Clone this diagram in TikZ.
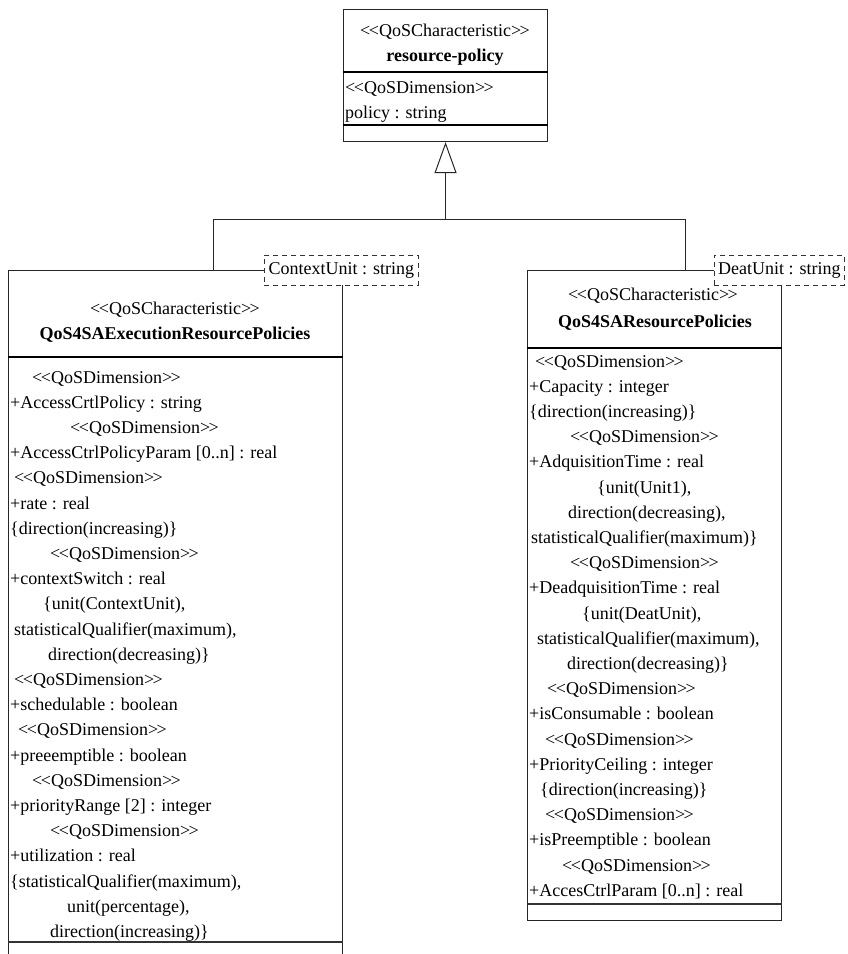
\documentclass[tikz,border=0pt]{standalone}
\usepackage{fontspec}
\setmainfont{Liberation Serif}
\usetikzlibrary{arrows.meta}
\newcommand\LL{<\kern-1.5pt<}
\newcommand\GG{>\kern-1.5pt>}
\begin{document}
\begin{tikzpicture}[x=1pt,y=-1pt,
  box/.style={draw=black!85, line width=1.1pt, fill=white, inner sep=0pt, anchor=north west},
  sep/.style={draw=black, line width=1.8pt},
  attr/.style={anchor=base west, inner sep=0pt, font=\fontsize{18}{20}\selectfont},
  ctr/.style={anchor=base, inner sep=0pt, font=\fontsize{18}{20}\selectfont},
  note/.style={draw=black!80, dash pattern=on 5pt off 4pt, line width=0.8pt, fill=white,
    anchor=north west, inner sep=0pt, minimum height=30pt, font=\fontsize{18}{20}\selectfont},
  gen/.style={draw=black!85, line width=1pt}]
\useasboundingbox (0,0) rectangle (847,954);

% ---------- top class ----------
\node[box, minimum width=204pt, minimum height=132pt] (rp) at (343,9) {};
\draw[sep] (rp.west |- 0,72) -- (rp.east |- 0,72);
\draw[sep] (rp.west |- 0,125) -- (rp.east |- 0,125);
\node[ctr] (rpst) at (445,36) {\LL QoSCharacteristic\GG};
\node[ctr, font=\fontsize{18}{20}\selectfont\bfseries] (rpname) at (445,61) {resource-policy};
\node[attr] (rpa1) at (345,93) {\LL QoSDimension\GG};
\node[attr] (rpa2) at (345,118) {policy : string};

% ---------- left class ----------
\node[box, minimum width=334pt, minimum height=700pt] (lb) at (8,270) {};
\draw[sep] (lb.west |- 0,357) -- (lb.east |- 0,357);
\draw[sep, line width=1.4pt, draw=black!80] (lb.west |- 0,942) -- (lb.east |- 0,942);
\node[ctr] (lbst) at (175,314) {\LL QoSCharacteristic\GG};
\node[ctr, font=\fontsize{18}{20}\selectfont\bfseries] (lbname) at (175,339) {QoS4SAExecutionResourcePolicies};
\foreach \xx/\tt [count=\i] in {
  32/{\LL QoSDimension\GG},
  10/{+AccessCrtlPolicy : string},
  70/{\LL QoSDimension\GG},
  10/{+AccessCtrlPolicyParam [0..n] : real},
  14/{\LL QoSDimension\GG},
  10/{+rate : real},
  10/{\{direction(increasing)\}},
  50/{\LL QoSDimension\GG},
  10/{+contextSwitch : real},
  43/{\{unit(ContextUnit),},
  14/{statisticalQualifier(maximum),},
  48/{direction(decreasing)\}},
  14/{\LL QoSDimension\GG},
  10/{+schedulable : boolean},
  18/{\LL QoSDimension\GG},
  10/{+preeemptible : boolean},
  32/{\LL QoSDimension\GG},
  10/{+priorityRange [2] : integer},
  50/{\LL QoSDimension\GG},
  10/{+utilization : real},
  10/{\{statisticalQualifier(maximum),},
  67/{unit(percentage),},
  50/{direction(increasing)\}}}
  \node[attr] (la\i) at (\xx,{383+(\i-1)*25.2}) {\tt};

% ---------- right class ----------
\node[box, minimum width=254pt, minimum height=650pt] (rb) at (527,270) {};
\draw[sep] (rb.west |- 0,348) -- (rb.east |- 0,348);
\draw[sep, line width=1.4pt, draw=black!80] (rb.west |- 0,904) -- (rb.east |- 0,904);
\node[ctr] (rbst) at (653,300) {\LL QoSCharacteristic\GG};
\node[ctr, font=\fontsize{18}{20}\selectfont\bfseries] (rbname) at (655,327) {QoS4SAResourcePolicies};
\foreach \xx/\tt [count=\i] in {
  535/{\LL QoSDimension\GG},
  529/{+Capacity : integer},
  529/{\{direction(increasing)\}},
  570/{\LL QoSDimension\GG},
  529/{+AdquisitionTime : real},
  597/{\{unit(Unit1),},
  568/{direction(decreasing),},
  531/{statisticalQualifier(maximum)\}},
  570/{\LL QoSDimension\GG},
  529/{+DeadquisitionTime : real},
  582/{\{unit(DeatUnit),},
  537/{statisticalQualifier(maximum),},
  567/{direction(decreasing)\}},
  547/{\LL QoSDimension\GG},
  529/{+isConsumable : boolean},
  545/{\LL QoSDimension\GG},
  529/{+PriorityCeiling : integer},
  540/{\{direction(increasing)\}},
  545/{\LL QoSDimension\GG},
  529/{+isPreemptible : boolean},
  562/{\LL QoSDimension\GG},
  529/{+AccesCtrlParam [0..n] : real}}
  \node[attr] (ra\i) at (\xx,{367+(\i-1)*25.2}) {\tt};

% ---------- generalization ----------
\coordinate (jl) at (213,219);
\coordinate (jr) at (685,219);
\coordinate (jm) at (rp.south |- jl);
\draw[gen] (lb.north -| jl) -- (jl) -- (jr) -- (rb.north -| jr);
\draw[gen, -{Triangle[open, length=31pt, width=22pt, line width=1pt]}] (jm) -- (rp.south);

% ---------- notes ----------
\node[note, minimum width=154pt] (cu) at (264,255) {ContextUnit : string};
\node[note, minimum width=130pt] (du) at (714,255) {DeatUnit : string};
\end{tikzpicture}
\end{document}
